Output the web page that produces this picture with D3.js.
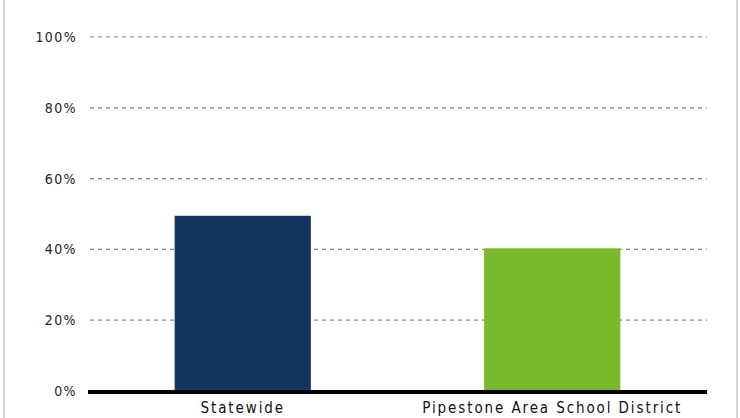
<!DOCTYPE html>
<html><head><meta charset="utf-8">
<script src="https://cdn.jsdelivr.net/npm/d3@7"></script>
<style>body{margin:0;background:#fff}svg{display:block}</style>
</head><body>
<script>
const categories = ["Statewide", "Pipestone Area School District"];
const values = [0.495, 0.403];
const colors = ["#14355f", "#7aba2a"];
const ticks = [0, 0.2, 0.4, 0.6, 0.8, 1.0];
const tickLabels = ["0%", "20%", "40%", "60%", "80%", "100%"];

const W = 740, H = 418;
const svg = d3.select("body").append("svg").attr("width", W).attr("height", H);

// frame
svg.append("line").attr("x1", 4).attr("x2", 4).attr("y1", 0).attr("y2", H).attr("stroke", "#c8c8c8").attr("stroke-width", 1.5);
svg.append("line").attr("x1", 737).attr("x2", 737).attr("y1", 0).attr("y2", H).attr("stroke", "#c8c8c8").attr("stroke-width", 1.5);

const x = d3.scaleBand().domain(categories).range([88, 707]).paddingInner(0.56).paddingOuter(0.28);
const y = d3.scaleLinear().domain([0, 1]).range([391, 37]);

const g = svg.append("g");
// gridlines
g.selectAll(".grid").data(ticks.slice(1)).enter().append("line")
  .attr("x1", 90).attr("x2", 707)
  .attr("y1", d => y(d)).attr("y2", d => y(d))
  .attr("stroke", "#7a8787").attr("stroke-width", 1.2).attr("stroke-dasharray", "4,4");

// y labels
g.selectAll(".yl").data(ticks).enter().append("text")
  .attr("x", 77).attr("y", d => y(d)).attr("dy", "0.35em")
  .attr("text-anchor", "end")
  .attr("font-family", "DejaVu Sans Condensed, DejaVu Sans")
  .attr("font-size", 14).attr("letter-spacing", 1.4).attr("fill", "#222")
  .text((d, i) => tickLabels[i]);

// bars
g.selectAll(".bar").data(categories).enter().append("rect")
  .attr("x", d => x(d)).attr("width", x.bandwidth())
  .attr("y", (d, i) => y(values[i])).attr("height", (d, i) => y(0) - y(values[i]))
  .attr("fill", (d, i) => colors[i]);

// axis line
g.append("line").attr("x1", 88).attr("x2", 707).attr("y1", 392).attr("y2", 392)
  .attr("stroke", "#000").attr("stroke-width", 4);

// x labels
g.selectAll(".xl").data(categories).enter().append("text")
  .attr("x", d => x(d) + x.bandwidth() / 2).attr("y", 413)
  .attr("text-anchor", "middle")
  .attr("font-family", "DejaVu Sans Condensed, DejaVu Sans")
  .attr("font-size", 15).attr("letter-spacing", 1.9).attr("fill", "#111")
  .text(d => d);
</script>
</body></html>
